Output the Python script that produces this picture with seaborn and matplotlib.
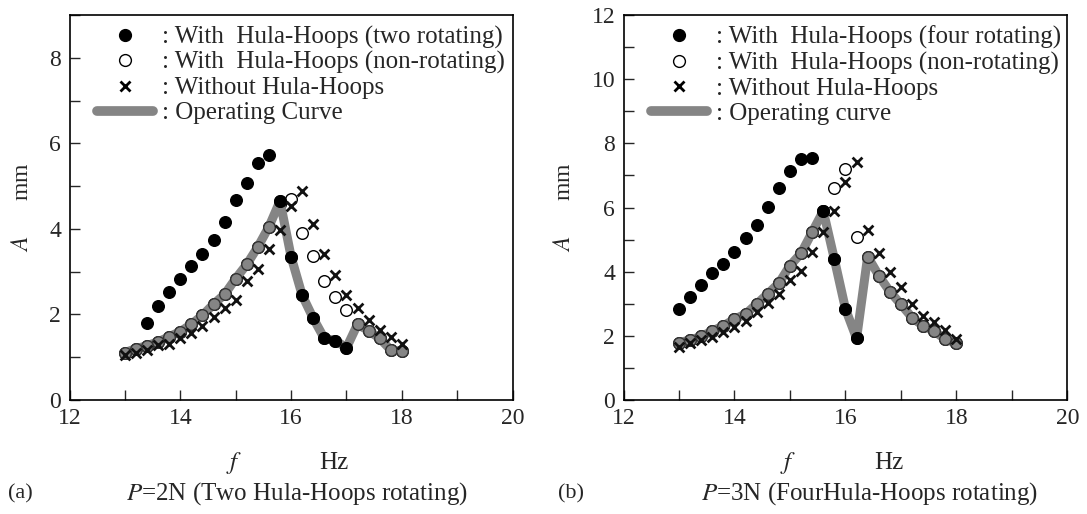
import numpy as np
import pandas as pd
import matplotlib
matplotlib.use("Agg")
import matplotlib.pyplot as plt
from matplotlib.lines import Line2D
import seaborn as sns

sns.set_style("ticks")
plt.rcParams["font.family"] = ["Liberation Serif", "DejaVu Serif"]
plt.rcParams["mathtext.fontset"] = "stix"

# ---------------- Panel (a): P = 2N ----------------
a_rot_f = [13.4, 13.6, 13.8, 14.0, 14.2, 14.4, 14.6, 14.8, 15.0, 15.2, 15.4, 15.6,
           15.8, 16.0, 16.2, 16.4, 16.6, 16.8, 17.0]
a_rot_A = [1.81, 2.20, 2.52, 2.82, 3.13, 3.41, 3.74, 4.15, 4.68, 5.07, 5.54, 5.73,
           4.65, 3.35, 2.45, 1.91, 1.44, 1.39, 1.22]

a_non_f = [13.0, 13.2, 13.4, 13.6, 13.8, 14.0, 14.2, 14.4, 14.6, 14.8, 15.0, 15.2, 15.4,
           15.6, 15.8, 16.0, 16.2, 16.4, 16.6, 16.8, 17.0, 17.2, 17.4, 17.6, 17.8, 18.0]
a_non_A = [1.11, 1.20, 1.27, 1.36, 1.48, 1.60, 1.77, 1.98, 2.24, 2.47, 2.84, 3.17, 3.58,
           4.05, 4.59, 4.69, 3.91, 3.36, 2.79, 2.41, 2.10, 1.77, 1.62, 1.44, 1.17, 1.14]

a_wo_f = a_non_f
a_wo_A = [1.05, 1.11, 1.17, 1.28, 1.32, 1.44, 1.56, 1.73, 1.95, 2.14, 2.33, 2.78, 3.07,
          3.54, 3.97, 4.53, 4.89, 4.12, 3.42, 2.93, 2.45, 2.16, 1.87, 1.63, 1.48, 1.31]

a_op_f = a_non_f
a_op_A = [1.11, 1.20, 1.27, 1.36, 1.48, 1.60, 1.77, 1.98, 2.24, 2.47, 2.84, 3.17, 3.58,
          4.05, 4.65, 3.35, 2.45, 1.91, 1.44, 1.39, 1.22, 1.77, 1.62, 1.44, 1.17, 1.14]

# ---------------- Panel (b): P = 3N ----------------
b_rot_f = [13.0, 13.2, 13.4, 13.6, 13.8, 14.0, 14.2, 14.4, 14.6, 14.8, 15.0, 15.2, 15.4,
           15.6, 15.8, 16.0, 16.2]
b_rot_A = [2.84, 3.20, 3.57, 3.95, 4.23, 4.61, 5.04, 5.46, 6.01, 6.60, 7.13, 7.52, 7.53,
           5.89, 4.39, 2.84, 1.92]

b_non_f = [13.0, 13.2, 13.4, 13.6, 13.8, 14.0, 14.2, 14.4, 14.6, 14.8, 15.0, 15.2, 15.4,
           15.6, 15.8, 16.0, 16.2, 16.4, 16.6, 16.8, 17.0, 17.2, 17.4, 17.6, 17.8, 18.0]
b_non_A = [1.79, 1.87, 1.98, 2.15, 2.31, 2.52, 2.68, 2.99, 3.31, 3.64, 4.19, 4.57, 5.23,
           5.90, 6.60, 7.19, 5.09, 4.47, 3.88, 3.38, 2.98, 2.57, 2.31, 2.15, 1.89, 1.77]

b_wo_f = b_non_f
b_wo_A = [1.66, 1.77, 1.87, 1.95, 2.11, 2.29, 2.46, 2.73, 3.01, 3.31, 3.74, 4.03, 4.61,
          5.23, 5.90, 6.81, 7.41, 5.30, 4.59, 4.00, 3.53, 2.98, 2.63, 2.44, 2.18, 1.90]

b_op_f = b_non_f
b_op_A = [1.79, 1.87, 1.98, 2.15, 2.31, 2.52, 2.68, 2.99, 3.31, 3.64, 4.19, 4.57, 5.23,
          5.89, 4.39, 2.84, 1.92, 4.47, 3.88, 3.38, 2.98, 2.57, 2.31, 2.15, 1.89, 1.77]

legend_a = [": With  Hula-Hoops (two rotating)", ": With  Hula-Hoops (non-rotating)",
            ": Without Hula-Hoops", ": Operating Curve"]
legend_b = [": With  Hula-Hoops (four rotating)", ": With  Hula-Hoops (non-rotating)",
            ": Without Hula-Hoops", ": Operating curve"]
caption_a = r"$P$=2N (Two Hula-Hoops rotating)"
caption_b = r"$P$=3N (FourHula-Hoops rotating)"

GREY = "#858585"
FS = 18
TFS = 17
MS = 70

fig = plt.figure(figsize=(10.87, 5.14), dpi=100)
ax1 = fig.add_axes([0.064, 0.2218, 0.4076, 0.749])
ax2 = fig.add_axes([0.5736, 0.2218, 0.4084, 0.749])


def draw(ax, rot_f, rot_A, non_f, non_A, wo_f, wo_A, op_f, op_A, labels, ymax):
    sns.scatterplot(x=non_f, y=non_A, ax=ax, marker="o", s=MS, facecolor="white",
                    edgecolor="black", linewidth=1.0, zorder=2)
    sns.lineplot(x=op_f, y=op_A, ax=ax, color=GREY, linewidth=6.5, sort=False,
                 estimator=None, zorder=3, solid_joinstyle="round",
                 solid_capstyle="round")
    sns.scatterplot(x=op_f, y=op_A, ax=ax, marker="o", s=MS, facecolor=GREY,
                    edgecolor="#333333", linewidth=1.0, zorder=4)
    sns.scatterplot(x=rot_f, y=rot_A, ax=ax, marker="o", s=MS, color="black",
                    edgecolor="black", linewidth=1.0, zorder=5)
    sns.scatterplot(x=wo_f, y=wo_A, ax=ax, marker="x", s=50, color="#111111",
                    linewidth=2.0, zorder=6)

    ax.set_xlim(12, 20)
    ax.set_ylim(0, ymax)
    ax.set_xticks(np.arange(12, 21, 1))
    ax.set_xticklabels([str(v) if v % 2 == 0 else "" for v in range(12, 21)])
    ax.set_yticks(np.arange(0, ymax + 1, 1))
    ax.set_yticklabels([str(v) if v % 2 == 0 else "" for v in range(0, ymax + 1)])
    ax.tick_params(direction="in", length=7, width=1.0, labelsize=TFS, pad=6,
                   top=False, right=False)
    for sp in ax.spines.values():
        sp.set_visible(True)
        sp.set_linewidth(1.2)
        sp.set_color("black")

    handles = [
        Line2D([], [], marker="o", ls="none", color="black", markersize=8.5),
        Line2D([], [], marker="o", ls="none", markerfacecolor="white",
               markeredgecolor="black", markersize=8.5),
        Line2D([], [], marker="x", ls="none", color="black", markersize=7,
               markeredgewidth=2),
        Line2D([], [], color=GREY, lw=7, solid_capstyle="round"),
    ]
    ax.legend(handles, labels, loc="upper left", bbox_to_anchor=(0.062, 0.972),
              frameon=False, fontsize=FS, handlelength=2.25, handletextpad=0.36,
              labelspacing=0.1, borderpad=0, borderaxespad=0)

    ax.set_xlabel("")
    ax.set_ylabel(r"$A$      mm", fontsize=TFS, labelpad=12)
    ax.text(0.371, -0.163, r"$f$", transform=ax.transAxes, fontsize=FS,
            ha="center", va="center")
    ax.text(0.597, -0.163, "Hz", transform=ax.transAxes, fontsize=FS,
            ha="center", va="center")


draw(ax1, a_rot_f, a_rot_A, a_non_f, a_non_A, a_wo_f, a_wo_A, a_op_f, a_op_A,
     legend_a, 9)
draw(ax2, b_rot_f, b_rot_A, b_non_f, b_non_A, b_wo_f, b_wo_A, b_op_f, b_op_A,
     legend_b, 12)

fig.text(0.007, 0.04, "(a)", fontsize=16, ha="left", va="center")
fig.text(0.273, 0.04, caption_a, fontsize=FS, ha="center", va="center")
fig.text(0.513, 0.04, "(b)", fontsize=16, ha="left", va="center")
fig.text(0.800, 0.04, caption_b, fontsize=FS, ha="center", va="center")

fig.savefig("out.png", dpi=100)
